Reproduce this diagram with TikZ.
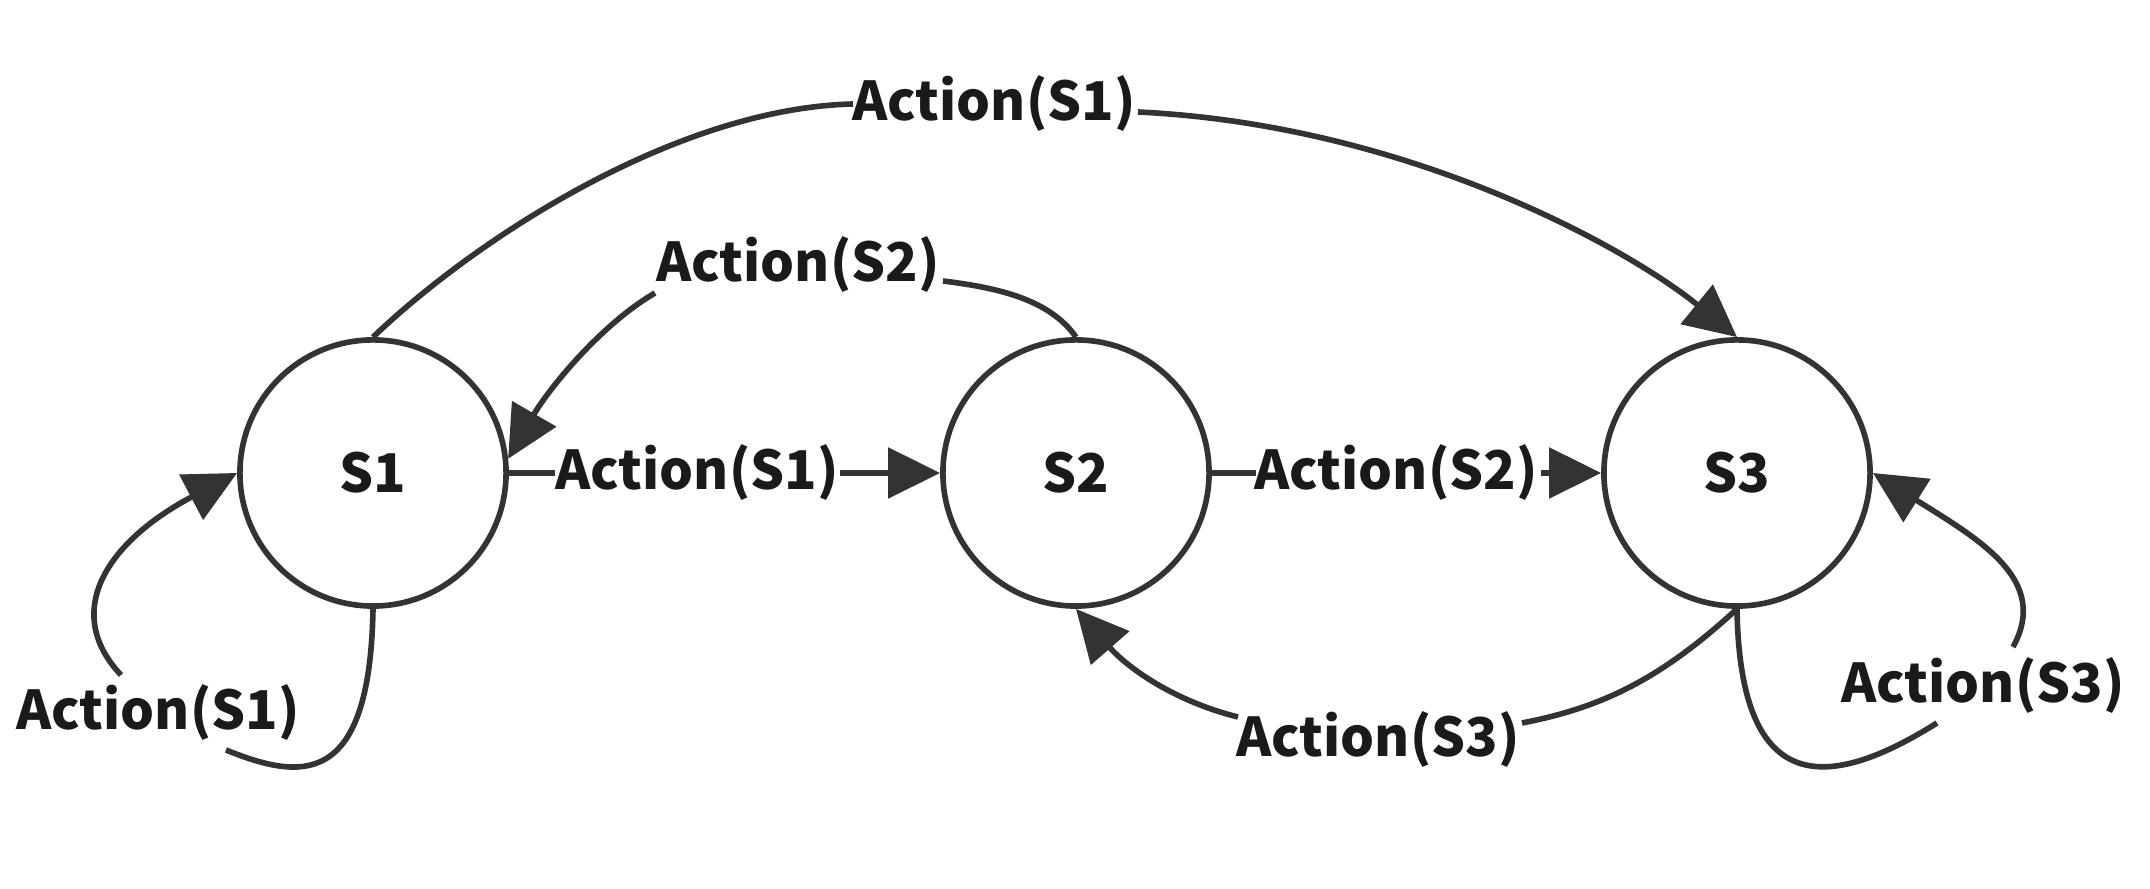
\documentclass[tikz,border=0pt]{standalone}
\usepackage{fontspec}
\setmainfont{Noto Sans CJK SC}
\usetikzlibrary{arrows.meta,calc}
\definecolor{ln}{HTML}{333333}
\definecolor{tx}{HTML}{1A1A1A}
\begin{document}
\begin{tikzpicture}[x=0.01cm,y=-0.01cm,
  state/.style={circle,draw=ln,line width=1.6pt,minimum size=2.66cm,inner sep=0pt,
    font=\fontsize{15.2}{18}\selectfont\bfseries,text=tx},
  lab/.style={font=\fontsize{15.2}{18}\selectfont\bfseries,text=tx,inner sep=0pt},
  edge/.style={draw=ln,line width=1.6pt},
  arr/.style={edge,-{Triangle[length=0.52cm,width=0.50cm]}}]
\useasboundingbox[fill=white] (0,0) rectangle (2150,889);
% states
\node[state] (S1) at (373,473) {S1};
\node[state] (S2) at (1076,473) {S2};
\node[state] (S3) at (1737,473) {S3};
% labels
\node[lab] (topA) at (994,104) {Action(S1)};
\node[lab] (upS2) at (798,265) {Action(S2)};
\node[lab] (midS1) at (697,473) {Action(S1)};
\node[lab] (midS2) at (1396,473) {Action(S2)};
\node[lab] (lowS3) at (1378,740) {Action(S3)};
\node[lab] (lab1) at (158,713) {Action(S1)};
\node[lab] (lab3) at (1983,686) {Action(S3)};
% S1 -> S3 over the top
\draw[edge] (S1.90) .. controls (480,235) and (680,108) .. ($(topA)+(-141,0)$);
\draw[arr] ($(topA)+(144,8)$) .. controls (1410,125) and (1630,250) .. (S3.90);
% S2 -> S1
\draw[edge] (S2.90) .. controls (1050,300) and (1000,288) .. ($(upS2)+(145,16)$);
\draw[arr] ($(upS2)+(-143,28)$) .. controls (600,325) and (548,390) .. (S1.6);
% S1 -> S2
\draw[edge] (S1.0) -- ($(midS1)+(-142,0)$);
\draw[arr] ($(midS1)+(143,0)$) -- (S2.180);
% S2 -> S3
\draw[edge] (S2.0) -- ($(midS2)+(-140,0)$);
\draw[arr] ($(midS2)+(145,0)$) -- (S3.180);
% S3 -> S2
\draw[edge] (S3.270) .. controls (1660,680) and (1600,708) .. ($(lowS3)+(144,-17)$);
\draw[arr] ($(lowS3)+(-140,-23)$) .. controls (1170,700) and (1125,665) .. (S2.270);
% S1 loop
\draw[edge] (S1.270) .. controls (370,790) and (300,780) .. ($(lab1)+(68,37)$);
\draw[arr] ($(lab1)+(-37,-38)$) .. controls (60,610) and (110,540) .. (S1.180);
% S3 loop
\draw[edge] (S3.270) .. controls (1740,800) and (1830,790) .. ($(lab3)+(-46,37)$);
\draw[arr] ($(lab3)+(30,-39)$) .. controls (2050,580) and (1980,540) .. (S3.0);
\end{tikzpicture}
\end{document}
